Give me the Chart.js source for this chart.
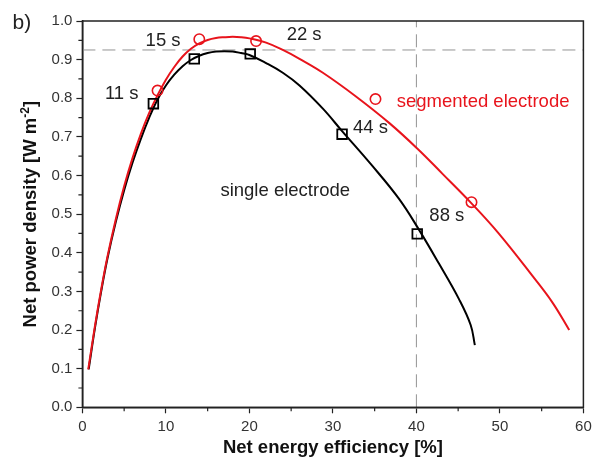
<!DOCTYPE html>
<html><head><meta charset="utf-8">
<script src="https://cdn.jsdelivr.net/npm/chart.js@4.4.1/dist/chart.umd.min.js"></script>
<style>html,body{margin:0;padding:0;background:#fff}#wrap{width:592px;height:465px}</style>
</head><body><div id="wrap"><canvas id="c" width="592" height="465"></canvas></div>
<script>
// ---- data ----
const singleCurveX = [0.75,1.5,2.25,3.0,4.0,5.0,6.0,7.0,8.0,9.0,10.0,11.0,12.0,13.0,14.0,15.0,16.0,17.0,18.0,19.0,20.0,22.0,24.0,26.0,28.8,31.1,34.6,37.9,40.3,42.7,45.1,46.5,47.0];
const singleCurveY = [0.098,0.205,0.300,0.385,0.480,0.562,0.633,0.695,0.750,0.797,0.833,0.861,0.883,0.899,0.910,0.917,0.921,0.922,0.921,0.917,0.912,0.891,0.866,0.833,0.773,0.715,0.628,0.540,0.460,0.372,0.280,0.213,0.161];
const segCurveX = [0.70,1.5,2.25,3.0,4.0,5.0,6.0,7.0,8.0,9.0,10.0,11.0,12.0,13.0,14.0,15.0,16.0,17.0,18.0,19.0,20.0,22.0,24.0,26.0,28.8,32.8,36.8,40.1,43.1,46.6,49.9,53.9,56.3,58.3];
const segCurveY = [0.098,0.210,0.305,0.390,0.487,0.572,0.645,0.708,0.762,0.808,0.848,0.881,0.908,0.928,0.942,0.951,0.956,0.958,0.959,0.958,0.955,0.944,0.925,0.902,0.866,0.804,0.735,0.670,0.605,0.528,0.449,0.340,0.271,0.200];
const singlePointsX = [8.5,13.4,20.1,31.1,40.1];
const singlePointsY = [0.786,0.902,0.915,0.707,0.449];
const segPointsX = [9.0,14.0,20.8,35.1,46.6];
const segPointsY = [0.820,0.953,0.948,0.798,0.531];
const refPowerY = 0.925;
const refEffX = 40;
const xTicks = [0,10,20,30,40,50,60];
const yTicks = [0.0,0.1,0.2,0.3,0.4,0.5,0.6,0.7,0.8,0.9,1.0];
const labelTexts = ['11 s','15 s','22 s','44 s','88 s','single electrode','segmented electrode'];
const labelAtX = [2.70,7.57,24.46,32.4,41.55,16.53,37.64];
const labelAtY = [0.797,0.936,0.951,0.709,0.483,0.547,0.777];

const RED = '#e8141c';
const DARK = '#222';
const FONT = '"Liberation Sans", Arial, Helvetica, sans-serif';
const zip = (xs, ys) => xs.map((x, i) => ({x, y: ys[i]}));

const extras = {
  id: 'extras',
  afterDraw(chart) {
    const {ctx, chartArea: a, scales: {x, y}} = chart;
    ctx.save();
    // frame
    ctx.strokeStyle = DARK; ctx.lineWidth = 1.5;
    ctx.strokeRect(a.left, a.top, a.right - a.left, a.bottom - a.top);
    // minor ticks
    ctx.lineWidth = 1.2;
    ctx.beginPath();
    for (let i = 0; i < xTicks.length - 1; i++) {
      const px = x.getPixelForValue((xTicks[i] + xTicks[i+1]) / 2);
      ctx.moveTo(px, a.bottom); ctx.lineTo(px, a.bottom + 4);
    }
    for (let i = 0; i < yTicks.length - 1; i++) {
      const py = y.getPixelForValue((yTicks[i] + yTicks[i+1]) / 2);
      ctx.moveTo(a.left, py); ctx.lineTo(a.left - 4, py);
    }
    ctx.stroke();
    // annotations
    ctx.font = '18.5px ' + FONT;
    ctx.textBaseline = 'alphabetic'; ctx.textAlign = 'left';
    labelTexts.forEach((t, i) => {
      ctx.fillStyle = t.startsWith('segmented') ? RED : DARK;
      ctx.fillText(t, x.getPixelForValue(labelAtX[i]), y.getPixelForValue(labelAtY[i]));
    });
    // panel letter
    ctx.fillStyle = DARK; ctx.font = '21px ' + FONT;
    ctx.fillText('b)', 12.5, 29);
    // y title with superscript
    const main1 = 'Net power density [W m', sup = '-2', main2 = ']';
    const fMain = 'bold 18.5px ' + FONT, fSup = 'bold 12px ' + FONT;
    ctx.font = fMain; const w1 = ctx.measureText(main1).width, w3 = ctx.measureText(main2).width;
    ctx.font = fSup; const w2 = ctx.measureText(sup).width;
    const total = w1 + w2 + w3;
    const cy = (a.top + a.bottom) / 2;
    ctx.translate(36, cy); ctx.rotate(-Math.PI / 2);
    ctx.fillStyle = '#111';
    let cx = -total / 2;
    ctx.font = fMain; ctx.fillText(main1, cx, 0); cx += w1;
    ctx.font = fSup; ctx.fillText(sup, cx, -7.5); cx += w2;
    ctx.font = fMain; ctx.fillText(main2, cx, 0);
    ctx.restore();
  }
};

new Chart(document.getElementById('c'), {
  type: 'scatter',
  data: {
    datasets: [
      {data: zip(segPointsX, segPointsY), pointStyle: 'circle', pointRadius: 5.2, pointBorderColor: RED, pointBackgroundColor: 'rgba(0,0,0,0)', pointBorderWidth: 1.6, showLine: false},
      {data: zip(singlePointsX, singlePointsY), pointStyle: 'rect', pointRadius: 6.8, pointBorderColor: '#000', pointBackgroundColor: 'rgba(0,0,0,0)', pointBorderWidth: 1.8, showLine: false},
      {data: zip(segCurveX, segCurveY), showLine: true, borderColor: RED, borderWidth: 2, pointRadius: 0, tension: 0.4},
      {data: zip(singleCurveX, singleCurveY), showLine: true, borderColor: '#000', borderWidth: 2, pointRadius: 0, tension: 0.4},
      {data: [{x: xTicks[0], y: refPowerY}, {x: xTicks[xTicks.length-1], y: refPowerY}], showLine: true, borderColor: '#939393', borderWidth: 1, borderDash: [13, 7], pointRadius: 0},
      {data: [{x: refEffX, y: yTicks[0]}, {x: refEffX, y: yTicks[yTicks.length-1]}], showLine: true, borderColor: '#939393', borderWidth: 1, borderDash: [13, 7], pointRadius: 0}
    ]
  },
  options: {
    responsive: false, animation: false, devicePixelRatio: 1,
    layout: {padding: {top: 21, right: 8, left: 0, bottom: 0}},
    plugins: {legend: {display: false}, tooltip: {enabled: false}},
    scales: {
      x: {
        type: 'linear', min: xTicks[0], max: xTicks[xTicks.length-1],
        afterBuildTicks: s => { s.ticks = xTicks.map(v => ({value: v})); },
        afterFit: s => { s.height = 57.7; s.paddingLeft = 0; s.paddingRight = 0; },
        border: {color: DARK, width: 1.5},
        grid: {drawOnChartArea: false, drawTicks: true, tickLength: 6, tickColor: DARK, tickWidth: 1.2},
        ticks: {color: '#333', font: {family: FONT, size: 15}, padding: 5, maxRotation: 0, autoSkip: false},
        title: {display: true, text: 'Net energy efficiency [%]', color: '#111', font: {family: FONT, size: 18.5, weight: 'bold'}, padding: {top: 0, bottom: 6}}
      },
      y: {
        type: 'linear', min: yTicks[0], max: yTicks[yTicks.length-1],
        afterBuildTicks: s => { s.ticks = yTicks.map(v => ({value: v})); },
        afterFit: s => { s.width = 82.4; s.paddingTop = 0; s.paddingBottom = 0; },
        border: {color: DARK, width: 1.5},
        grid: {drawOnChartArea: false, drawTicks: true, tickLength: 6, tickColor: DARK, tickWidth: 1.2},
        ticks: {color: '#333', font: {family: FONT, size: 15}, padding: 4, autoSkip: false, callback: v => v.toFixed(1)}
      }
    }
  },
  plugins: [extras]
});
</script></body></html>
